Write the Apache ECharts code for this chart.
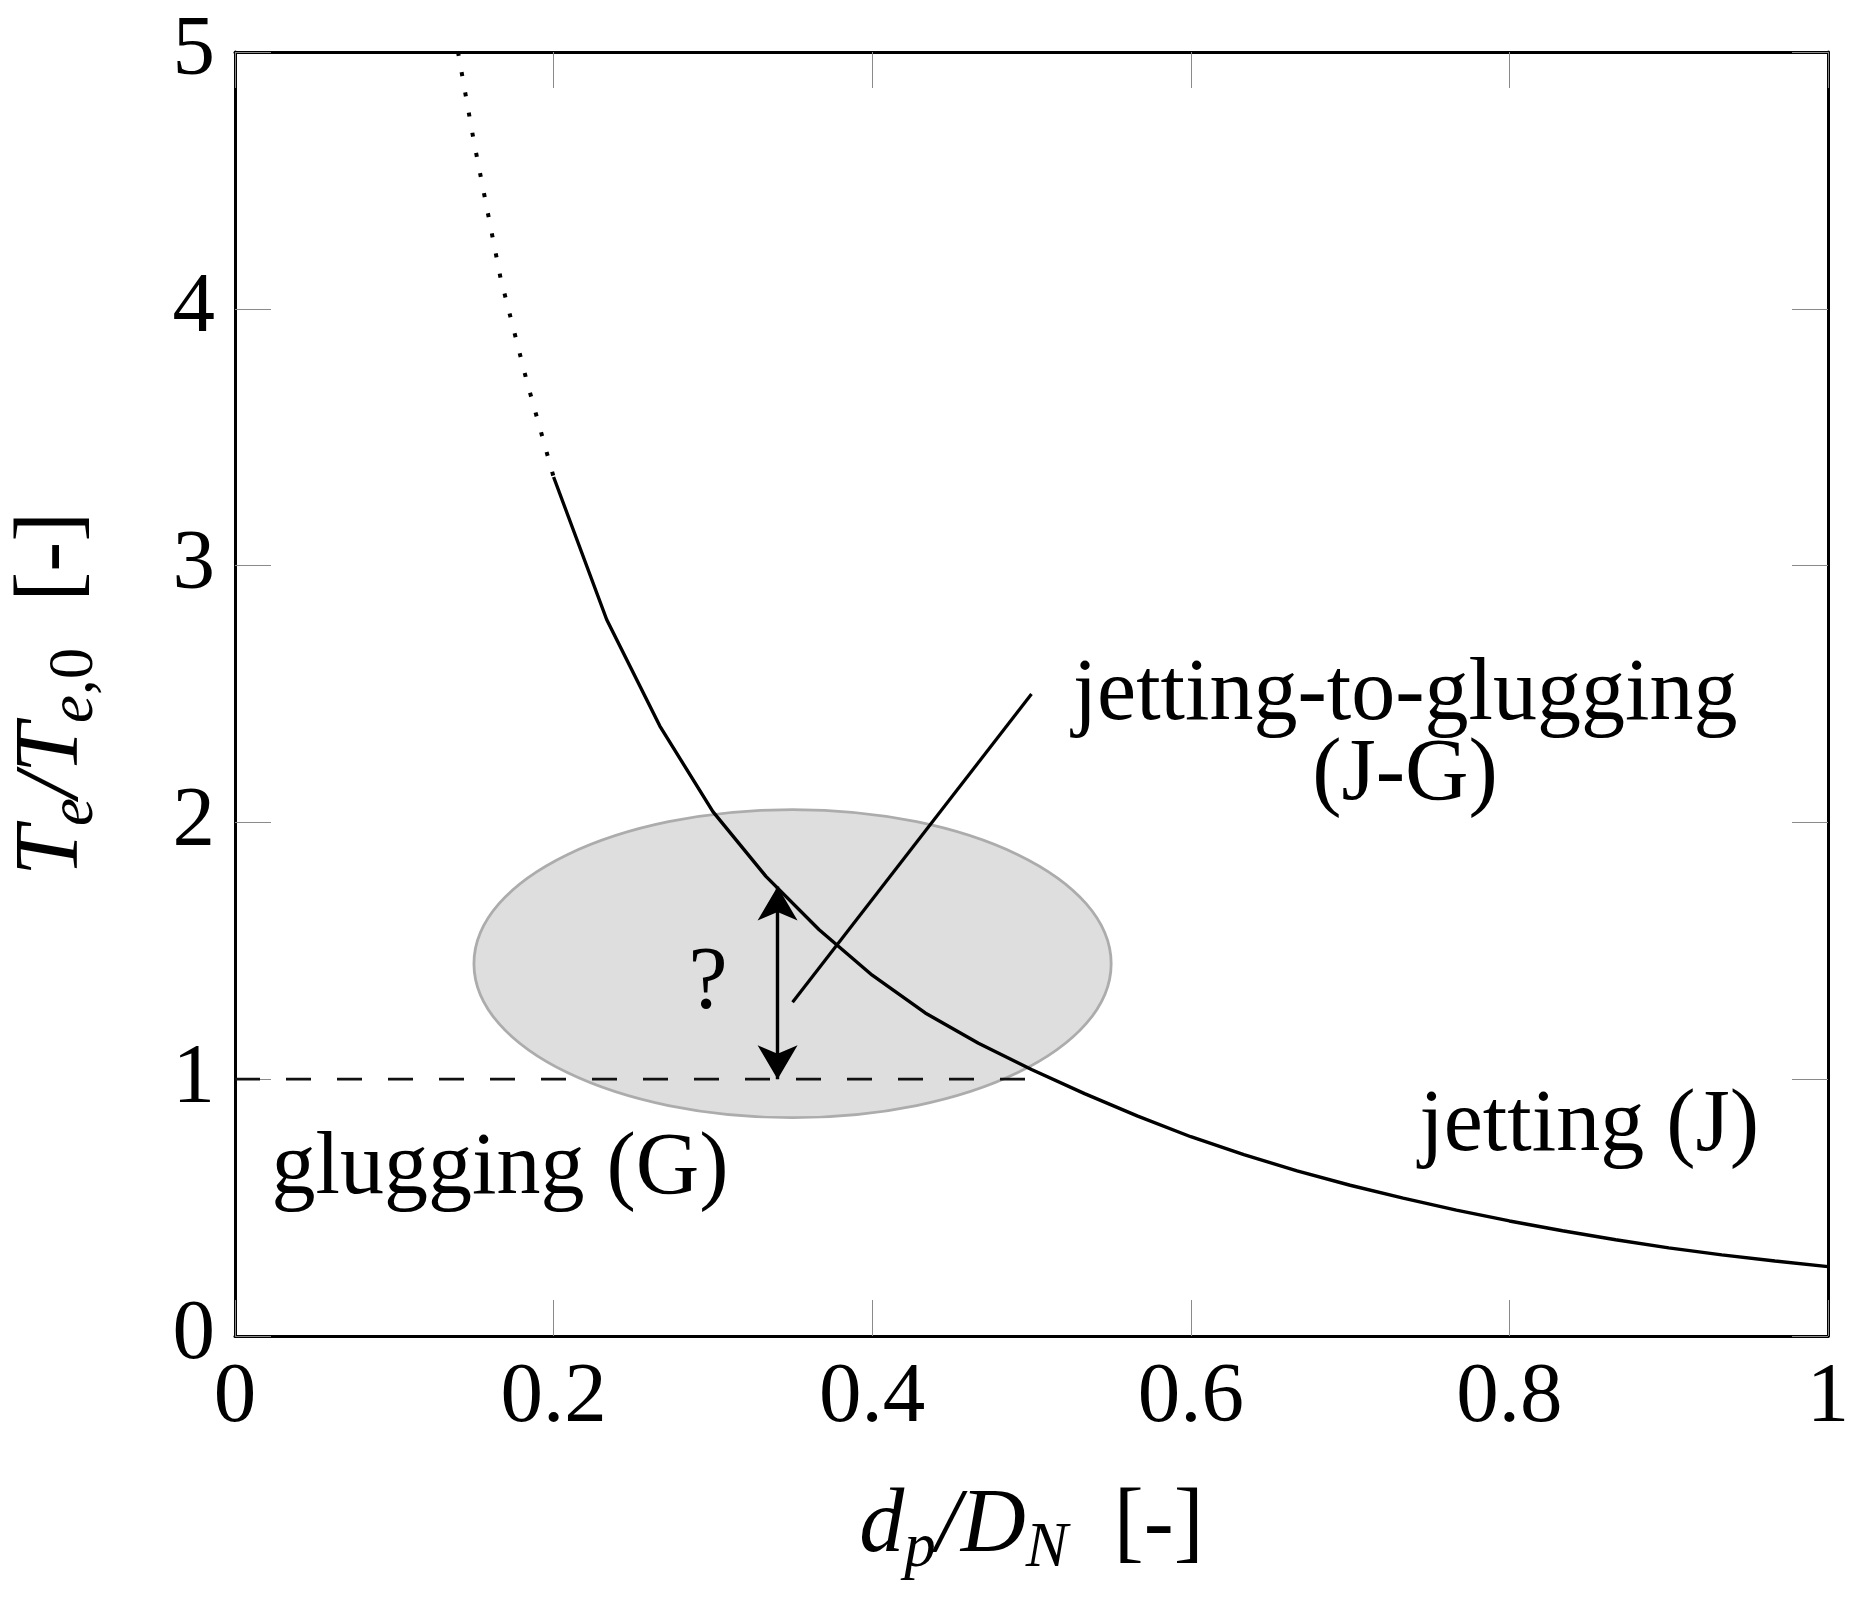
<!DOCTYPE html>
<html>
<head>
<meta charset="utf-8">
<script src="https://cdn.jsdelivr.net/npm/echarts@6/dist/echarts.min.js"></script>
<style>
html, body { margin: 0; padding: 0; background: #fff; }
#main { width: 1864px; height: 1604px; }
</style>
</head>
<body>
<div id="main"></div>
<script>
// solid part of the J / J-G boundary
var curveX = [0.2, 0.2333, 0.2667, 0.3, 0.3333, 0.3667, 0.4, 0.4333, 0.4667, 0.5,
              0.5333, 0.5667, 0.6, 0.6333, 0.6667, 0.7, 0.7333, 0.7667, 0.8, 0.8333,
              0.8667, 0.9, 0.9333, 0.9667, 1.0];
var curveY = [3.345, 2.79, 2.375, 2.042, 1.79, 1.582, 1.405, 1.258, 1.14, 1.038,
              0.944, 0.856, 0.776, 0.706, 0.643, 0.587, 0.537, 0.49, 0.448, 0.41,
              0.375, 0.343, 0.316, 0.292, 0.27];
// dotted extension up to the top of the frame
var dotX = [0.14, 0.15, 0.1667, 0.1833, 0.2];
var dotY = [5.0, 4.65, 4.12, 3.715, 3.345];
// dashed line T_e/T_e,0 = 1
var threshX = [0, 0.5];
var threshY = [1, 1];
// pointer from the grey region to its label
var pointerX = [0.35, 0.5];
var pointerY = [1.3, 2.5];
// double arrow with the "?"
var arrowX = 0.3406;
var arrowY = [1, 1.75];
// grey J-G region (centre and half widths, data units)
var regionCenter = [0.35, 1.45];
var regionRadius = [0.2, 0.6];
// text notes
var noteText = ['jetting-to-glugging\n(J-G)', 'jetting (J)', 'glugging (G)', '?'];
var noteX = [0.7345, 0.957, 0.0226, 0.297];
var noteY = [2.336, 0.814, 0.647, 1.372];
var notePos = ['inside', 'left', 'right', 'inside'];

var font = 'Liberation Serif';

function pairs(xs, ys) {
    return xs.map(function (x, i) { return [x, ys[i]]; });
}

var myChart = echarts.init(document.getElementById('main'), null, { renderer: 'canvas' });

var lineAxis = { onZero: false, lineStyle: { color: '#000', width: 3 } };
var tick = { inside: true, length: 36, lineStyle: { color: '#8a8a8a', width: 1 } };
var tickLabel = { fontFamily: font, fontSize: 85, color: '#000' };

// subscripts: sub tokens sit at the bottom of a tall line box
var nameRich = {
    i: { fontFamily: font, fontStyle: 'italic', fontSize: 90, lineHeight: 108, color: '#000' },
    s: { fontFamily: font, fontStyle: 'italic', fontSize: 63, verticalAlign: 'bottom', color: '#000' },
    u: { fontFamily: font, fontSize: 63, verticalAlign: 'bottom', color: '#000' },
    r: { fontFamily: font, fontSize: 90, lineHeight: 108, color: '#000', padding: [0, 0, 0, 46] }
};

var noteLabel = {
    show: true, distance: 0, color: '#000', opacity: 1,
    textBorderWidth: 0,
    fontFamily: font, fontSize: 88, lineHeight: 80
};

var option = {
    backgroundColor: '#fff',
    animation: false,
    grid: { left: 235, right: 36, top: 52, bottom: 268 },
    xAxis: [{
        type: 'value', position: 'bottom', min: 0, max: 1, interval: 0.2,
        splitLine: { show: false },
        axisLine: lineAxis, axisTick: tick,
        axisLabel: Object.assign({ margin: 20 }, tickLabel),
        name: '{i|d}{s|p}{i|/D}{s|N}{r|[-]}',
        nameLocation: 'middle', nameGap: 137,
        nameTextStyle: { rich: nameRich }
    }, {
        type: 'value', position: 'top', min: 0, max: 1, interval: 0.2,
        splitLine: { show: false },
        axisLine: lineAxis, axisTick: tick, axisLabel: { show: false }
    }],
    yAxis: [{
        type: 'value', position: 'left', min: 0, max: 5, interval: 1,
        splitLine: { show: false },
        axisLine: lineAxis, axisTick: tick,
        axisLabel: Object.assign({ margin: 20 }, tickLabel),
        name: '{i|T}{s|e}{i|/T}{s|e}{u|,0}{r|[-]}',
        nameLocation: 'middle', nameGap: 128, nameRotate: 90,
        nameTextStyle: { rich: nameRich }
    }, {
        type: 'value', position: 'right', min: 0, max: 5, interval: 1,
        splitLine: { show: false },
        axisLine: lineAxis, axisTick: tick, axisLabel: { show: false }
    }],
    series: [{
        // grey region
        type: 'custom',
        silent: true,
        z: 1,
        renderItem: function (params, api) {
            var c = api.coord([api.value(0), api.value(1)]);
            var s = api.size([api.value(2), api.value(3)]);
            return {
                type: 'ellipse',
                shape: { cx: c[0], cy: c[1], rx: s[0], ry: s[1] },
                style: { fill: '#dedede', stroke: '#acacac', lineWidth: 2.8 }
            };
        },
        data: [[regionCenter[0], regionCenter[1], regionRadius[0], regionRadius[1]]]
    }, {
        type: 'line', silent: true, z: 3,
        showSymbol: false, symbol: 'none',
        lineStyle: { color: '#111', width: 2.8, type: [25, 26] },
        data: pairs(threshX, threshY)
    }, {
        type: 'line', silent: true, z: 3,
        showSymbol: false, symbol: 'none',
        lineStyle: { color: '#000', width: 3.4 },
        data: pairs(curveX, curveY)
    }, {
        type: 'line', silent: true, z: 3,
        showSymbol: false, symbol: 'none',
        lineStyle: { color: '#000', width: 4, type: [4, 16.5] },
        data: pairs(dotX, dotY)
    }, {
        type: 'line', silent: true, z: 3,
        showSymbol: false, symbol: 'none',
        lineStyle: { color: '#000', width: 3.2 },
        data: pairs(pointerX, pointerY),
        markLine: {
            silent: true,
            symbol: ['arrow', 'arrow'],
            symbolSize: [30, 34],
            label: { show: false },
            lineStyle: { color: '#000', width: 3.4, type: 'solid' },
            data: [[{ coord: [arrowX, arrowY[0]] }, { coord: [arrowX, arrowY[1]] }]]
        }
    }, {
        type: 'scatter', silent: true, z: 4,
        symbolSize: 1,
        itemStyle: { color: 'rgba(255,255,255,0)' },
        label: noteLabel,
        data: noteText.map(function (t, i) {
            return {
                value: [noteX[i], noteY[i]],
                label: Object.assign({}, noteLabel, {
                    position: notePos[i],
                    align: notePos[i] === 'inside' ? 'center' : (notePos[i] === 'left' ? 'right' : 'left'),
                    formatter: t
                })
            };
        })
    }]
};

myChart.setOption(option);
</script>
</body>
</html>
